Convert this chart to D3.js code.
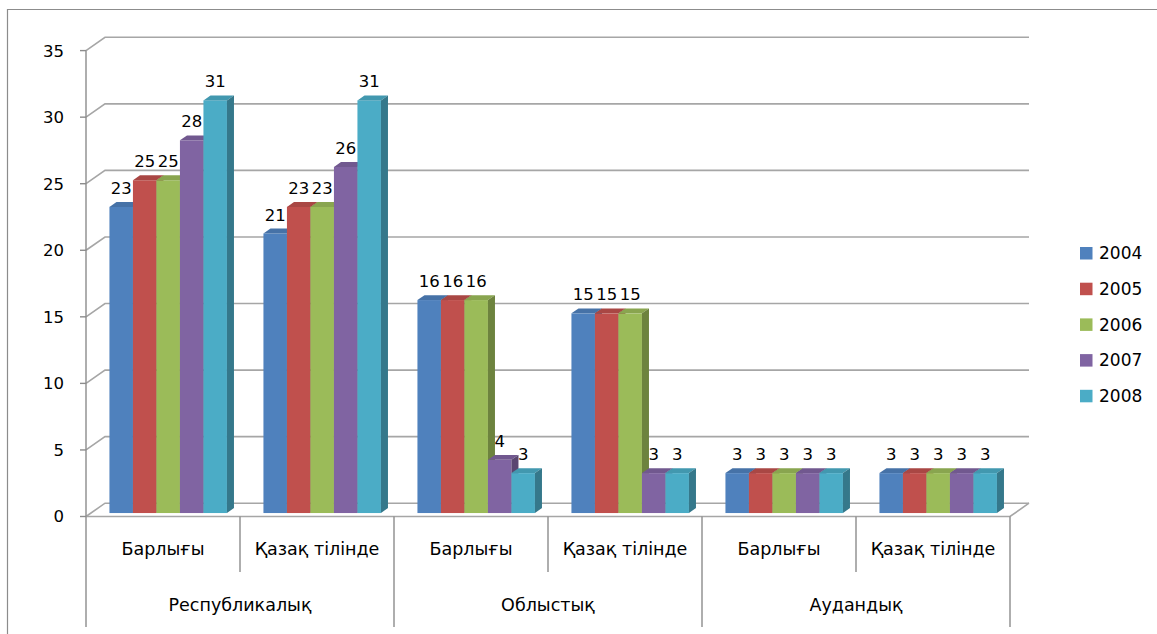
<!DOCTYPE html>
<html>
<head>
<meta charset="utf-8">
<script src="https://cdn.jsdelivr.net/npm/d3@7"></script>
<style>
  html, body { margin: 0; padding: 0; background: #fff; }
  svg { display: block; font-family: "DejaVu Sans", sans-serif; }
</style>
</head>
<body>
<svg id="chart" width="1157" height="634"></svg>
<script>
// ---------- data ----------
const subCategories = ["Барлығы", "Қазақ тілінде", "Барлығы", "Қазақ тілінде", "Барлығы", "Қазақ тілінде"];
const groups = ["Республикалық", "Облыстық", "Аудандық"];
const years = ["2004", "2005", "2006", "2007", "2008"];
const v2004 = [23, 21, 16, 15, 3, 3];
const v2005 = [25, 23, 16, 15, 3, 3];
const v2006 = [25, 23, 16, 15, 3, 3];
const v2007 = [28, 26, 4, 3, 3, 3];
const v2008 = [31, 31, 3, 3, 3, 3];
const yTicks = [0, 5, 10, 15, 20, 25, 30, 35];
const colors = ["#4F81BD", "#C0504D", "#9BBB59", "#8064A2", "#4BACC6"];

const seriesValues = [v2004, v2005, v2006, v2007, v2008];

// ---------- layout ----------
const svg = d3.select("#chart");
const plotLeft = 86, plotRight = 1010;
const depthDX = 19, depthDY = -13.3;      // back wall offset
const barFront = 0.26, barBack = 0.63;   // bar depth fractions

const y = d3.scaleLinear().domain([0, 35]).range([516.5, 50.6]);
const x0 = d3.scaleBand().domain(d3.range(subCategories.length)).range([plotLeft, plotRight]);
const x1 = d3.scaleBand().domain(years).range([18.5, x0.bandwidth() - 18]);

const gridColor = "#A6A6A6";
const axisColor = "#8C8C8C";

// outer frame
svg.append("path")
  .attr("d", "M1157,9.5 L7.5,9.5 L7.5,634")
  .attr("fill", "none").attr("stroke", "#8C8C8C").attr("stroke-width", 1.2);

// gridlines (left wall + back wall)
svg.append("g").selectAll("path").data(yTicks).join("path")
  .attr("d", d => `M${plotLeft},${y(d)} L${plotLeft + depthDX},${y(d) + depthDY} L${plotRight + depthDX},${y(d) + depthDY}`)
  .attr("fill", "none").attr("stroke", gridColor).attr("stroke-width", 1.6);

// floor front & right edge
svg.append("path")
  .attr("d", `M${plotLeft},${y(0)} L${plotRight},${y(0)} L${plotRight + depthDX},${y(0) + depthDY}`)
  .attr("fill", "none").attr("stroke", gridColor).attr("stroke-width", 1.6);

// y axis line + ticks
svg.append("line")
  .attr("x1", plotLeft).attr("x2", plotLeft).attr("y1", y(35)).attr("y2", y(0))
  .attr("stroke", axisColor).attr("stroke-width", 1.4);
svg.append("g").selectAll("line").data(yTicks).join("line")
  .attr("x1", plotLeft - 6).attr("x2", plotLeft).attr("y1", d => y(d)).attr("y2", d => y(d))
  .attr("stroke", axisColor).attr("stroke-width", 1.4);
svg.append("g").selectAll("text").data(yTicks).join("text")
  .attr("x", 64).attr("y", d => y(d)).attr("dy", "0.36em")
  .attr("text-anchor", "end").attr("font-size", 16.5).attr("fill", "#000")
  .text(d => d);

// category separators
const boundaries = d3.range(subCategories.length + 1);
svg.append("g").selectAll("line").data(boundaries).join("line")
  .attr("x1", i => plotLeft + i * x0.bandwidth()).attr("x2", i => plotLeft + i * x0.bandwidth())
  .attr("y1", y(0)).attr("y2", i => (i % 2 === 0) ? 627 : 572)
  .attr("stroke", axisColor).attr("stroke-width", 1.4);

// category labels
svg.append("g").selectAll("text").data(subCategories).join("text")
  .attr("x", (d, i) => x0(i) + x0.bandwidth() / 2).attr("y", 555)
  .attr("text-anchor", "middle").attr("font-size", 17.5).attr("fill", "#000")
  .text(d => d);
svg.append("g").selectAll("text").data(groups).join("text")
  .attr("x", (d, i) => x0(i * 2) + x0.bandwidth()).attr("y", 611)
  .attr("text-anchor", "middle").attr("font-size", 17.5).attr("fill", "#000")
  .text(d => d);

// bars
const fdx = depthDX * barFront, fdy = depthDY * barFront;
const bdx = depthDX * barBack, bdy = depthDY * barBack;
const barsG = svg.append("g");
const labelsG = svg.append("g");
subCategories.forEach((c, i) => {
  years.forEach((yr, j) => {
    const v = seriesValues[j][i];
    const col = colors[j];
    const xl = x0(i) + x1(yr) + fdx;
    const xr = xl + x1.bandwidth();
    const yt = y(v) + fdy, yb = y(0) + fdy;
    const sx = bdx - fdx, sy = bdy - fdy;
    const g = barsG.append("g");
    g.append("rect").attr("x", xl).attr("y", yt).attr("width", x1.bandwidth()).attr("height", yb - yt)
      .attr("fill", col);
    g.append("path")
      .attr("d", `M${xl},${yt} L${xr},${yt} L${xr + sx},${yt + sy} L${xl + sx},${yt + sy} Z`)
      .attr("fill", d3.color(col).darker(0.35));
    g.append("path")
      .attr("d", `M${xr},${yt} L${xr + sx},${yt + sy} L${xr + sx},${yb + sy} L${xr},${yb} Z`)
      .attr("fill", d3.color(col).darker(1.0));
    labelsG.append("text")
      .attr("x", (xl + xr) / 2).attr("y", yt - 13)
      .attr("text-anchor", "middle").attr("font-size", 16.5).attr("fill", "#000")
      .text(v);
  });
});

// legend
const legend = svg.append("g").selectAll("g").data(years).join("g")
  .attr("transform", (d, i) => `translate(1080, ${253 + i * 35.7})`);
legend.append("rect").attr("x", 0).attr("y", -6).attr("width", 12.5).attr("height", 12.5)
  .attr("fill", (d, i) => colors[i]);
legend.append("text").attr("x", 19).attr("y", 0).attr("dy", "0.36em")
  .attr("font-size", 17).attr("fill", "#000").text(d => d);
</script>
</body>
</html>
